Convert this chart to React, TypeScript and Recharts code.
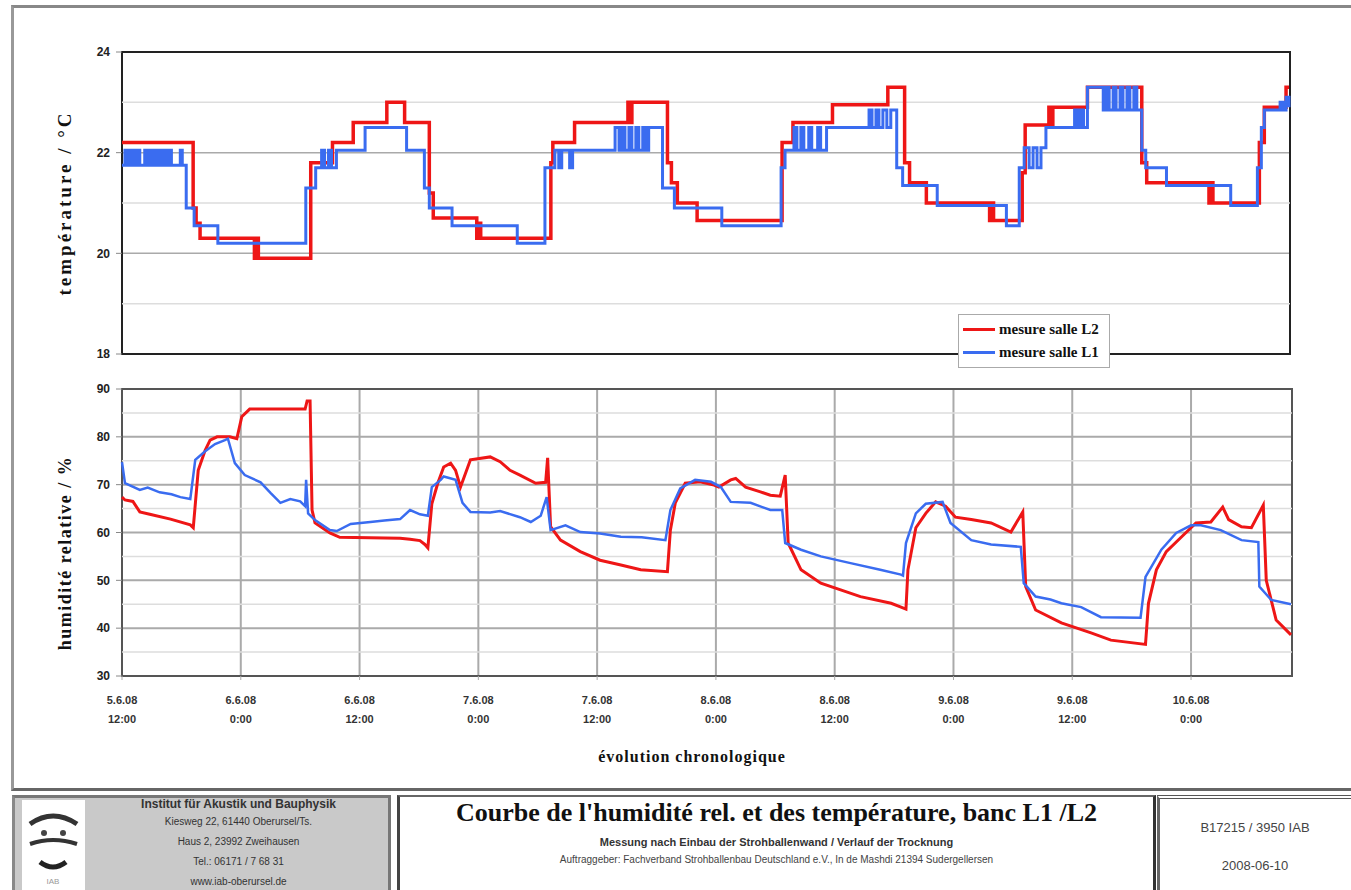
import {
  CartesianGrid,
  Line,
  LineChart,
  ReferenceArea,
  ReferenceLine,
  XAxis,
  YAxis,
} from 'recharts'

// hours since 5.6.08 12:00
const xTickHours = [0, 12, 24, 36, 48, 60, 72, 84, 96, 108]
const xTickDates = ['5.6.08', '6.6.08', '6.6.08', '7.6.08', '7.6.08', '8.6.08', '8.6.08', '9.6.08', '9.6.08', '10.6.08']
const xTickTimes = ['12:00', '0:00', '12:00', '0:00', '12:00', '0:00', '12:00', '0:00', '12:00', '0:00']
const xMax = 118.2

const tempTicks = [18, 20, 22, 24]
const tempMinorTicks = [19, 21, 23]
const humTicks = [30, 40, 50, 60, 70, 80, 90]
const humMinorTicks = [35, 45, 55, 65, 75, 85]

const seriesNames = ['mesure salle L2', 'mesure salle L1']

// temperature, salle L2 (step values)
const tempL2: [number, number][] = [
  [0, 22.2], [7.2, 20.9], [7.5, 20.6], [7.9, 20.3], [13.4, 19.9], [13.6, 20.3], [13.8, 19.9],
  [19.1, 21.8], [21.3, 22.2], [23.4, 22.6], [26.8, 23.0], [28.6, 22.6], [31.1, 21.2],
  [31.5, 20.7], [35.9, 20.3], [36.1, 20.6], [36.3, 20.3], [43.4, 21.8], [43.6, 22.2],
  [45.8, 22.6], [51.2, 23.0], [51.4, 22.6], [51.6, 23.0], [55.2, 21.8], [55.6, 21.4],
  [56.2, 21.0], [58.2, 20.65], [66.8, 22.2], [67.9, 22.6], [71.9, 22.95], [77.5, 23.3],
  [79.2, 21.8], [79.7, 21.4], [81.4, 21.0], [87.8, 20.65], [88.0, 21.0], [88.2, 20.65],
  [91.1, 21.6], [91.4, 22.55], [93.8, 22.9], [94.0, 22.55], [94.2, 22.9], [97.7, 23.3],
  [103.2, 21.8], [103.7, 21.4], [110.0, 21.0], [110.2, 21.4], [110.4, 21.0],
  [115.1, 22.2], [115.6, 22.9], [117.8, 23.3], [118.1, 23.3],
]

// temperature, salle L1 (step values)
const tempL1: [number, number][] = [
  [0, 21.75], [0.3, 22.05], [0.6, 21.75], [0.9, 22.05], [1.2, 21.75], [1.5, 22.05],
  [1.8, 21.75], [2.3, 22.05], [2.6, 21.75], [2.9, 22.05], [3.2, 21.75], [3.5, 22.05],
  [3.8, 21.75], [4.1, 22.05], [4.4, 21.75], [4.7, 22.05], [5.0, 21.75], [5.9, 22.05],
  [6.1, 21.75], [6.5, 20.9], [7.3, 20.55], [9.7, 20.2], [18.6, 21.3], [19.6, 21.7],
  [20.2, 22.05], [20.5, 21.7], [20.9, 22.05], [21.2, 21.7], [21.7, 22.05], [24.6, 22.5],
  [28.8, 22.05], [30.6, 21.3], [31.1, 20.9], [33.4, 20.55], [40.0, 20.2], [42.8, 21.7],
  [43.8, 22.05], [44.2, 21.7], [44.5, 22.05], [45.3, 21.7], [45.6, 22.05], [49.9, 22.5],
  [50.3, 22.05], [50.6, 22.5], [50.9, 22.05], [51.3, 22.5], [51.6, 22.05], [52.0, 22.5],
  [52.3, 22.05], [52.7, 22.5], [53.0, 22.05], [53.3, 22.5], [54.7, 21.3], [55.9, 20.9],
  [60.7, 20.55], [66.7, 21.7], [67.1, 22.05], [68.0, 22.5], [68.3, 22.05], [68.7, 22.5],
  [69.0, 22.05], [69.5, 22.5], [69.8, 22.05], [70.4, 22.5], [70.7, 22.05], [71.3, 22.5],
  [75.6, 22.85], [75.9, 22.5], [76.3, 22.85], [76.6, 22.5], [77.0, 22.85], [77.4, 22.5],
  [77.8, 22.85], [78.4, 21.7], [79.0, 21.35], [82.5, 20.95], [89.5, 20.55], [90.8, 21.7],
  [91.3, 22.1], [91.8, 21.7], [92.2, 22.1], [92.6, 21.7], [93.0, 22.1], [93.5, 22.5],
  [96.4, 22.85], [96.7, 22.5], [97.0, 22.85], [97.3, 22.5], [97.7, 23.3], [99.3, 22.85],
  [99.6, 23.3], [99.9, 22.85], [100.3, 23.3], [100.6, 22.85], [101.0, 23.3], [101.3, 22.85],
  [101.7, 23.3], [102.0, 22.85], [102.4, 23.3], [102.7, 22.85], [103.2, 22.05], [103.6, 21.7],
  [105.7, 21.35], [112.2, 20.95], [114.9, 21.7], [115.3, 22.5], [115.6, 22.85], [117.2, 23.0],
  [117.5, 22.85], [117.8, 23.1], [118.1, 22.9],
]

// relative humidity, salle L2
const humL2: [number, number][] = [
  [0, 67.4], [0.3, 66.8], [1.1, 66.5], [1.8, 64.3], [2.8, 63.8], [4.9, 62.8], [6.9, 61.6],
  [7.2, 61.0], [7.7, 73], [8.4, 77.2], [8.9, 79.3], [9.6, 80], [10.9, 80], [11.6, 79.6],
  [12.1, 84.2], [12.9, 85.8], [18.5, 85.8], [18.7, 87.5], [19.0, 87.5], [19.2, 64.7],
  [19.5, 62], [21.0, 59.9], [22.0, 59.0], [28.1, 58.8], [29.1, 58.6], [30.1, 58.3],
  [30.6, 57.5], [30.9, 56.8], [31.3, 66], [31.9, 70.3], [32.5, 73.7], [33.2, 74.5],
  [33.7, 73], [34.2, 69.5], [35.2, 75.2], [37.2, 75.8], [38.2, 74.8], [39.2, 73],
  [40.2, 72], [41.8, 70.3], [42.8, 70.5], [43.0, 75.6], [43.3, 61.2], [44.3, 58.4],
  [46.3, 56], [48.3, 54.2], [50.4, 53.2], [52.4, 52.2], [55.1, 51.8], [55.4, 60.5],
  [55.9, 66.2], [56.9, 70.3], [58.4, 70.6], [59.7, 70], [60.3, 69.5], [61.5, 71],
  [62.0, 71.3], [63.0, 69.5], [64.5, 68.5], [65.5, 67.8], [66.5, 67.6], [67.0, 72],
  [67.3, 57.8], [68.6, 52.2], [70.6, 49.4], [72.6, 48], [74.6, 46.6], [77.7, 45.2],
  [78.7, 44.4], [79.2, 44], [79.4, 52.2], [80.2, 61], [81.2, 64], [82.2, 66.4],
  [83.2, 65.5], [84.2, 63.2], [85.8, 62.7], [87.8, 62], [89.8, 60.1], [91.0, 64.3],
  [91.3, 48.7], [92.3, 43.8], [94.9, 41.1], [97.9, 39], [99.9, 37.5], [103.4, 36.6],
  [103.7, 45.2], [104.5, 52.2], [105.5, 56], [107.0, 59], [108.5, 62], [110.0, 62.2],
  [111.2, 65.3], [111.8, 62.7], [113.1, 61.2], [114.1, 61], [115.3, 65.7], [115.6, 50],
  [116.6, 41.7], [118.1, 38.6],
]

// relative humidity, salle L1
const humL1: [number, number][] = [
  [0, 74.7], [0.3, 70.3], [1.8, 68.9], [2.6, 69.4], [3.8, 68.4], [5.0, 68.0], [5.9, 67.4],
  [6.9, 67], [7.4, 75.2], [8.4, 77], [9.4, 78.5], [10.4, 79.3], [10.7, 79.6], [11.4, 74.5],
  [12.4, 72], [14.0, 70.5], [15.0, 68.3], [16.0, 66.2], [17.0, 67], [18.0, 66.5],
  [18.5, 65.5], [18.6, 71], [18.8, 64], [19.5, 62.6], [21.0, 60.5], [21.7, 60.3],
  [23.1, 61.8], [25.1, 62.2], [26.5, 62.5], [28.1, 62.8], [29.1, 64.7], [30.1, 63.8],
  [30.9, 63.5], [31.3, 69.5], [32.2, 71], [32.5, 71.7], [33.7, 71], [34.4, 66.2],
  [35.2, 64.3], [37.2, 64.2], [38.2, 64.5], [40.2, 63.2], [41.3, 62.2], [42.3, 63.5],
  [42.9, 67.4], [43.3, 60.5], [44.8, 61.5], [46.3, 60.1], [48.3, 59.8], [50.4, 59.1],
  [52.5, 59.0], [54.9, 58.4], [55.4, 64.7], [56.4, 69.2], [57.9, 71], [59.5, 70.6],
  [60.5, 69.5], [61.5, 66.4], [63.5, 66.2], [65.5, 64.7], [66.7, 64.7], [67.0, 57.8],
  [68.6, 56.4], [70.6, 55], [73.6, 53.6], [76.6, 52.2], [78.7, 51.2], [78.9, 51],
  [79.2, 57.8], [80.2, 64], [81.2, 66], [82.9, 66.4], [83.7, 62], [85.8, 58.4],
  [87.8, 57.5], [90.8, 57], [91.1, 49.4], [92.3, 46.6], [93.8, 46], [94.9, 45.2],
  [96.9, 44.4], [98.9, 42.3], [102.9, 42.2], [103.4, 50.7], [105.0, 56.4], [106.5, 59.9],
  [108.0, 61.5], [109.0, 61.5], [111.0, 60.5], [113.1, 58.4], [114.8, 58], [114.9, 48.7],
  [116.1, 45.9], [118.1, 45],
]

const RED = '#ee1616'
const BLUE = '#3a6cf0'
const SERIF = '"Liberation Serif", "DejaVu Serif", serif'
const SANS = '"Liberation Sans", Arial, sans-serif'

const toRows = (pts: [number, number][]) => pts.map(([h, v]) => ({ h, v }))

const XTick = (props: any) => {
  const { x, y, payload } = props
  const i = xTickHours.indexOf(payload.value)
  return (
    <text x={x} y={y} textAnchor="middle" fontFamily={SANS} fontSize={11} fontWeight="bold" fill="#333">
      <tspan x={x} dy={22}>{xTickDates[i]}</tspan>
      <tspan x={x} dy={19}>{xTickTimes[i]}</tspan>
    </text>
  )
}

const yTickStyle = { fontSize: 12, fontWeight: 'bold', fill: '#222', fontFamily: SANS }

const LegendBox = () => (
  <div
    style={{
      position: 'absolute',
      left: 958,
      top: 314,
      background: '#fff',
      border: '1px solid #aaa',
      padding: '3px 10px 3px 4px',
      fontFamily: SERIF,
      fontWeight: 'bold',
      fontSize: 15,
      lineHeight: '23px',
      color: '#111',
    }}
  >
    {[
      { name: seriesNames[0], color: RED },
      { name: seriesNames[1], color: BLUE },
    ].map((it) => (
      <div key={it.name} style={{ display: 'flex', alignItems: 'center' }}>
        <span style={{ display: 'inline-block', width: 32, height: 3, background: it.color, marginRight: 4 }} />
        {it.name}
      </div>
    ))}
  </div>
)

export default function App() {
  return (
    <div style={{ position: 'absolute', left: 0, top: 0, width: 1351, height: 890, background: '#fff', overflow: 'hidden' }}>
      {/* outer frame */}
      <div style={{ position: 'absolute', left: 11, top: 5, width: 1345, height: 780, borderTop: '3px solid #888', borderLeft: '3px solid #999', borderBottom: '3px solid #666' }} />

      {/* temperature chart */}
      <div style={{ position: 'absolute', left: 0, top: 0 }}>
        <LineChart width={1351} height={368} margin={{ top: 52, right: 61, bottom: 13, left: 82 }}>
          <CartesianGrid stroke="#aaa" strokeWidth={1.5} />
          {tempMinorTicks.map((t) => (
            <ReferenceLine key={t} y={t} stroke="#ddd" strokeWidth={1.5} />
          ))}
          <XAxis
            type="number"
            dataKey="h"
            domain={[0, xMax]}
            ticks={xTickHours}
            tick={false}
            tickLine={false}
            axisLine={false}
            height={1}
          />
          <YAxis
            type="number"
            domain={[18, 24]}
            ticks={tempTicks}
            interval={0}
            width={40}
            tick={yTickStyle}
            tickMargin={6}
            tickLine={{ stroke: '#888' }}
            axisLine={false}
          />
          <ReferenceArea x1={0} x2={xMax} y1={18} y2={24} fill="none" stroke="#222" strokeWidth={2} />
          <Line data={toRows(tempL2)} dataKey="v" type="stepAfter" stroke={RED} strokeWidth={3.5} dot={false} isAnimationActive={false} name={seriesNames[0]} />
          <Line data={toRows(tempL1)} dataKey="v" type="stepAfter" stroke={BLUE} strokeWidth={3} dot={false} isAnimationActive={false} name={seriesNames[1]} />
        </LineChart>
      </div>
      <LegendBox />

      {/* humidity chart */}
      <div style={{ position: 'absolute', left: 0, top: 370 }}>
        <LineChart width={1351} height={356} margin={{ top: 19, right: 59, bottom: 10, left: 82 }}>
          <CartesianGrid stroke="#aaa" strokeWidth={2} />
          {humMinorTicks.map((t) => (
            <ReferenceLine key={t} y={t} stroke="#ddd" strokeWidth={1.5} />
          ))}
          <XAxis
            type="number"
            dataKey="h"
            domain={[0, xMax]}
            ticks={xTickHours}
            interval={0}
            tick={<XTick />}
            tickLine={{ stroke: '#aaa' }}
            tickSize={4}
            axisLine={false}
            height={40}
          />
          <YAxis
            type="number"
            domain={[30, 90]}
            ticks={humTicks}
            interval={0}
            width={40}
            tick={yTickStyle}
            tickMargin={6}
            tickLine={{ stroke: '#888' }}
            axisLine={false}
          />
          <ReferenceArea x1={0} x2={xMax} y1={30} y2={90} fill="none" stroke="#555" strokeWidth={2} />
          <Line data={toRows(humL2)} dataKey="v" type="linear" stroke={RED} strokeWidth={3} dot={false} isAnimationActive={false} name={seriesNames[0]} />
          <Line data={toRows(humL1)} dataKey="v" type="linear" stroke={BLUE} strokeWidth={2.5} dot={false} isAnimationActive={false} name={seriesNames[1]} />
        </LineChart>
      </div>

      {/* axis titles */}
      <div style={{ position: 'absolute', left: 65, top: 203, transform: 'translate(-50%, -50%) rotate(-90deg)', whiteSpace: 'nowrap', fontFamily: SERIF, fontWeight: 'bold', fontSize: 19, letterSpacing: 3, color: '#111' }}>
        température / °C
      </div>
      <div style={{ position: 'absolute', left: 65, top: 553, transform: 'translate(-50%, -50%) rotate(-90deg)', whiteSpace: 'nowrap', fontFamily: SERIF, fontWeight: 'bold', fontSize: 18, letterSpacing: 1.5, color: '#111' }}>
        humidité relative / %
      </div>
      <div style={{ position: 'absolute', left: 692, top: 757, transform: 'translate(-50%, -50%)', whiteSpace: 'nowrap', fontFamily: SERIF, fontWeight: 'bold', fontSize: 16, letterSpacing: 1, color: '#111' }}>
        évolution chronologique
      </div>

      {/* footer: institute box */}
      <div style={{ position: 'absolute', left: 12, top: 795, width: 373, height: 100, background: '#c9c9c9', borderTop: '3px solid #777', borderLeft: '3px solid #888', borderRight: '3px solid #777' }} />
      <div style={{ position: 'absolute', left: 22, top: 800, width: 63, height: 90, background: '#fff' }}>
        <svg width={63} height={90}>
          <path d="M8 24 Q31 8 55 24" stroke="#333" strokeWidth={5} fill="none" />
          <circle cx={22} cy={33} r={3} fill="#444" />
          <circle cx={41} cy={33} r={3} fill="#444" />
          <path d="M8 44 Q31 36 55 44" stroke="#333" strokeWidth={4} fill="none" />
          <path d="M18 62 Q31 72 44 62" stroke="#222" strokeWidth={5} fill="none" />
          <text x={31} y={84} textAnchor="middle" fontSize={8} fill="#999" fontFamily={SANS}>IAB</text>
        </svg>
      </div>
      <div style={{ position: 'absolute', left: 92, top: 796, width: 293, textAlign: 'center', fontFamily: SANS, color: '#333' }}>
        <div style={{ fontSize: 12, fontWeight: 'bold', lineHeight: '16px' }}>Institut für Akustik und Bauphysik</div>
        <div style={{ fontSize: 10, lineHeight: '20px' }}>Kiesweg 22, 61440 Oberursel/Ts.</div>
        <div style={{ fontSize: 10, lineHeight: '20px' }}>Haus 2, 23992 Zweihausen</div>
        <div style={{ fontSize: 10, lineHeight: '20px' }}>Tel.: 06171 / 7 68 31</div>
        <div style={{ fontSize: 10, lineHeight: '20px' }}>www.iab-oberursel.de</div>
      </div>

      {/* footer: title box */}
      <div style={{ position: 'absolute', left: 397, top: 795, width: 753, height: 100, borderTop: '2px solid #666', borderLeft: '3px solid #444', borderRight: '3px solid #333' }} />
      <div style={{ position: 'absolute', left: 400, top: 796, width: 753, textAlign: 'center', color: '#111' }}>
        <div style={{ fontFamily: SERIF, fontWeight: 'bold', fontSize: 26, lineHeight: '34px' }}>
          Courbe de l'humidité rel. et des température, banc L1 /L2
        </div>
        <div style={{ fontFamily: SANS, fontWeight: 'bold', fontSize: 11, lineHeight: '20px', color: '#333', marginTop: 2 }}>
          Messung nach Einbau der Strohballenwand / Verlauf der Trocknung
        </div>
        <div style={{ fontFamily: SANS, fontSize: 10, lineHeight: '16px', color: '#444' }}>
          Auftraggeber: Fachverband Strohballenbau Deutschland e.V., In de Mashdi 21394 Sudergellersen
        </div>
      </div>

      {/* footer: reference box */}
      <div style={{ position: 'absolute', left: 1157, top: 795, width: 200, height: 100, borderTop: '4px double #555', borderLeft: '3px solid #666' }} />
      <div style={{ position: 'absolute', left: 1160, top: 818, width: 190, textAlign: 'center', fontFamily: SANS, fontSize: 13, color: '#444' }}>
        <div style={{ lineHeight: '20px' }}>B17215 / 3950 IAB</div>
        <div style={{ lineHeight: '20px', marginTop: 18 }}>2008-06-10</div>
      </div>
    </div>
  )
}
